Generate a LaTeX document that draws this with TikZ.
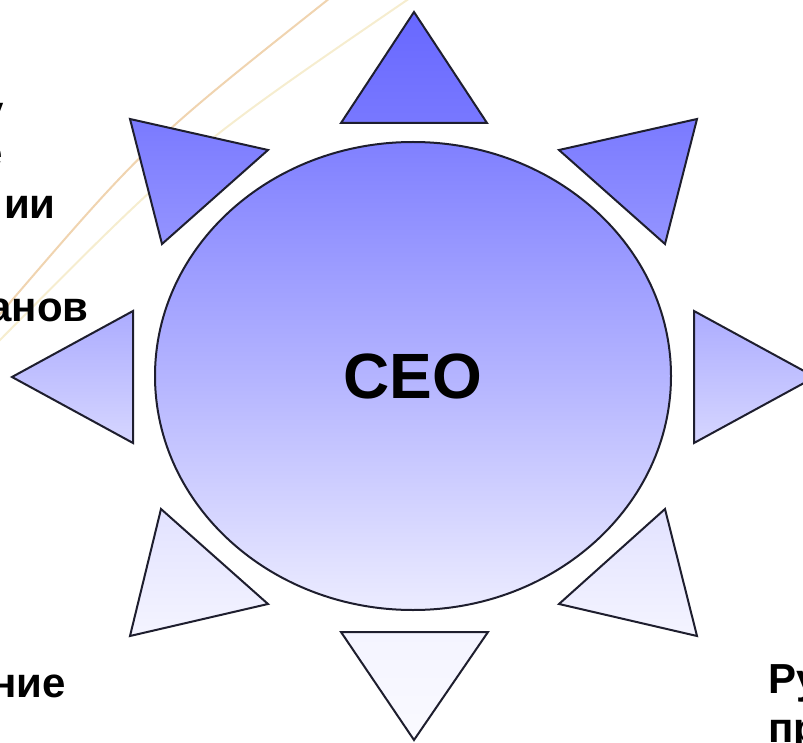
\documentclass[tikz,border=0pt]{standalone}
\usepackage{fontspec}
\setmainfont{Liberation Sans}
\usetikzlibrary{shapes.geometric}
\definecolor{edge}{HTML}{1E1E2E}
\definecolor{arcA}{HTML}{F0D4B0}
\definecolor{arcB}{HTML}{F6EDCF}
\definecolor{c104}{RGB}{104,104,255}
\definecolor{c120}{RGB}{120,120,255}
\definecolor{c124}{RGB}{122,122,255}
\definecolor{c150}{RGB}{148,148,255}
\definecolor{c128}{RGB}{128,128,255}
\definecolor{c184}{RGB}{180,180,255}
\definecolor{c238}{RGB}{236,236,255}
\definecolor{c175}{RGB}{172,172,255}
\definecolor{c212}{RGB}{214,214,255}
\definecolor{c226}{RGB}{226,226,255}
\definecolor{c242}{RGB}{244,244,255}
\definecolor{c250}{RGB}{250,250,255}
\tikzset{
  ray/.style={draw=edge, line width=2pt, line join=miter},
  sidetext/.style={inner sep=0pt, font=\fontsize{42}{50}\selectfont\bfseries, text=black},
  arcline/.style={line width=2pt}
}
\begin{document}
\begin{tikzpicture}[x=1pt,y=-1pt]
\useasboundingbox (0,0) rectangle (803,743);
% faint arcs
\coordinate (a1s) at (330,-2);
\coordinate (a1e) at (-5,320);
\coordinate (a2s) at (410,-2);
\coordinate (a2e) at (-5,345);
\draw[arcline, arcA] (a1s) .. controls (146,144) .. (a1e);
\draw[arcline, arcB] (a2s) .. controls (188,150) .. (a2e);
% rays
\draw[ray, top color=c104, bottom color=c120] (414,12) -- (341,123) -- (487,123) -- cycle;
\draw[ray, top color=c242, bottom color=c250] (341,632) -- (488,632) -- (414,740) -- cycle;
\draw[ray, top color=c175, bottom color=c212] (12,377) -- (133,311) -- (133,443) -- cycle;
\draw[ray, top color=c175, bottom color=c212] (815,377) -- (694,311) -- (694,443) -- cycle;
\draw[ray, top color=c124, bottom color=c150] (130,119) -- (268,150) -- (162,244) -- cycle;
\draw[ray, top color=c124, bottom color=c150] (697,119) -- (559,150) -- (665,244) -- cycle;
\draw[ray, top color=c226, bottom color=c242] (130,636) -- (268,604) -- (161,509) -- cycle;
\draw[ray, top color=c226, bottom color=c242] (697,636) -- (559,604) -- (665,509) -- cycle;
% centre
\node[ellipse, draw=edge, line width=2pt, inner sep=0pt, minimum width=516pt, minimum height=468pt,
  top color=c128, bottom color=c238, middle color=c184,
  font=\fontsize{64}{70}\selectfont\bfseries, text=black] (ceo) at (413,376) {CEO};
% cut-off side texts
\node[sidetext, anchor=base east] (t1) at (4,126) {у};
\node[sidetext, anchor=base east] (t2) at (3,168) {е};
\node[sidetext, anchor=base east] (t3) at (56,219) {ии};
\node[sidetext, anchor=base east] (t4) at (89,321) {анов};
\node[sidetext, anchor=base east] (t5) at (66,697) {ние};
\node[sidetext, anchor=base west] (t6) at (768,693) {Ру};
\node[sidetext, anchor=base west] (t7) at (768,742) {пр};
\end{tikzpicture}
\end{document}
